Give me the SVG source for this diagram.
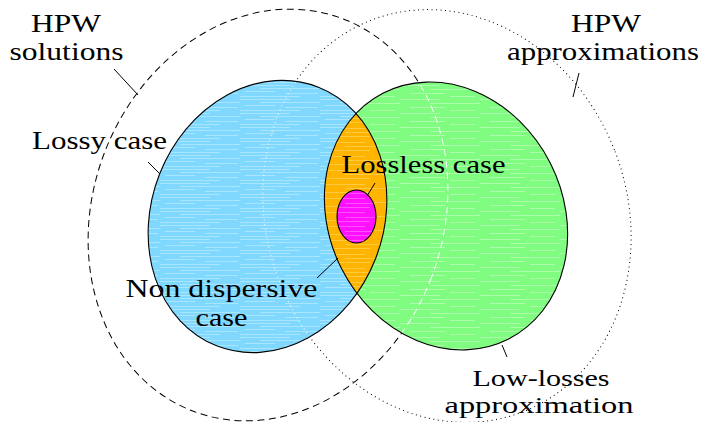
<svg xmlns="http://www.w3.org/2000/svg" width="710" height="422" viewBox="0 0 710 422">
<style>
.lbl{font-family:"Liberation Serif","Times New Roman",serif;font-size:26px;fill:#000;text-anchor:middle}
.lead{stroke:#000;stroke-width:1;fill:none}
.outl{stroke:#000;stroke-width:1.1;fill:none}
.dash{fill:none;stroke-width:1;stroke-dasharray:7 4.5}
.dot{fill:none;stroke-width:1;stroke-dasharray:1 3.5}
</style>
<defs>
<pattern id="hb" width="80" height="14" patternUnits="userSpaceOnUse">
<rect width="80" height="14" fill="#80d8ff"/>
<g stroke="#a8e6ff" stroke-width="1">
<line x1="0" y1="1.5" x2="50" y2="1.5"/><line x1="20" y1="4.5" x2="80" y2="4.5"/><line x1="5" y1="7.5" x2="35" y2="7.5"/><line x1="45" y1="9.5" x2="78" y2="9.5"/><line x1="0" y1="12.5" x2="60" y2="12.5"/>
</g></pattern>
<pattern id="hg" width="80" height="14" patternUnits="userSpaceOnUse">
<rect width="80" height="14" fill="#80fc80"/>
<g stroke="#abfdab" stroke-width="1">
<line x1="0" y1="1.5" x2="40" y2="1.5"/><line x1="30" y1="5.5" x2="80" y2="5.5"/><line x1="10" y1="9.5" x2="45" y2="9.5"/><line x1="50" y1="12.5" x2="75" y2="12.5"/>
</g></pattern>
<pattern id="ho" width="80" height="14" patternUnits="userSpaceOnUse">
<rect width="80" height="14" fill="#ffb400"/>
<g stroke="#ffc940" stroke-width="1">
<line x1="0" y1="2.5" x2="45" y2="2.5"/><line x1="25" y1="6.5" x2="80" y2="6.5"/><line x1="5" y1="10.5" x2="50" y2="10.5"/>
</g></pattern>
<pattern id="hm" width="80" height="14" patternUnits="userSpaceOnUse">
<rect width="80" height="14" fill="#ff10ff"/>
<g stroke="#ff50ff" stroke-width="1">
<line x1="0" y1="2.5" x2="45" y2="2.5"/><line x1="25" y1="7.5" x2="80" y2="7.5"/><line x1="5" y1="11.5" x2="50" y2="11.5"/>
</g></pattern>
<clipPath id="cb"><ellipse cx="0" cy="0" rx="116" ry="139" transform="translate(267.5 216.5) rotate(21.5)"/></clipPath>
<clipPath id="cg"><ellipse cx="0" cy="0" rx="117" ry="138" transform="translate(446 216) rotate(-27)"/></clipPath>
<clipPath id="cu">
<ellipse cx="0" cy="0" rx="116" ry="139" transform="translate(267.5 216.5) rotate(21.5)"/>
<ellipse cx="0" cy="0" rx="117" ry="138" transform="translate(446 216) rotate(-27)"/>
</clipPath>
</defs>
<rect width="710" height="422" fill="#fff"/>

<g id="hpw-solutions-set">
<ellipse class="dash" stroke="#000" cx="0" cy="0" rx="175" ry="210" transform="translate(268 215) rotate(21)"/>
</g>
<g id="hpw-approximations-set">
<ellipse class="dot" stroke="#000" cx="0" cy="0" rx="180" ry="210" transform="translate(447 216) rotate(-21)"/>
</g>

<g id="lossy-case">
<rect clip-path="url(#cb)" x="140" y="70" width="260" height="300" fill="url(#hb)"/>
</g>
<g id="low-losses-approximation">
<rect clip-path="url(#cg)" x="310" y="70" width="270" height="300" fill="url(#hg)"/>
</g>
<g id="lossless-case" clip-path="url(#cb)">
<rect clip-path="url(#cg)" x="310" y="90" width="90" height="210" fill="url(#ho)"/>
</g>

<g clip-path="url(#cu)">
<ellipse class="dash" stroke="#fff" cx="0" cy="0" rx="175" ry="210" transform="translate(268 215) rotate(21)"/>
<ellipse class="dot" stroke="#fff" cx="0" cy="0" rx="180" ry="210" transform="translate(447 216) rotate(-21)"/>
</g>

<ellipse class="outl" cx="0" cy="0" rx="116" ry="139" transform="translate(267.5 216.5) rotate(21.5)"/>
<ellipse class="outl" cx="0" cy="0" rx="117" ry="138" transform="translate(446 216) rotate(-27)"/>

<g id="non-dispersive-case">
<ellipse class="outl" style="fill:url(#hm)" cx="356.5" cy="216.5" rx="19.5" ry="26.5"/>
</g>

<g id="connectors">
<line class="lead" x1="114" y1="69" x2="138" y2="95"/>
<line class="lead" x1="579" y1="73" x2="573" y2="97"/>
<line class="lead" x1="148" y1="162" x2="160" y2="174"/>
<line class="lead" x1="375" y1="183" x2="367" y2="196"/>
<line class="lead" x1="317" y1="278" x2="338" y2="258"/>
<line class="lead" x1="502" y1="345" x2="507" y2="357"/>
</g>

<g id="labels">
<text class="lbl" x="66" y="32" textLength="70" lengthAdjust="spacingAndGlyphs">HPW</text>
<text class="lbl" x="66.5" y="60" textLength="114" lengthAdjust="spacingAndGlyphs">solutions</text>
<text class="lbl" x="606" y="32" textLength="70" lengthAdjust="spacingAndGlyphs">HPW</text>
<text class="lbl" x="603" y="60" textLength="192" lengthAdjust="spacingAndGlyphs">approximations</text>
<text class="lbl" x="99.5" y="149" textLength="135" lengthAdjust="spacingAndGlyphs">Lossy case</text>
<text class="lbl" x="423.5" y="173" textLength="164" lengthAdjust="spacingAndGlyphs">Lossless case</text>
<text class="lbl" x="221.5" y="297" textLength="192" lengthAdjust="spacingAndGlyphs">Non dispersive</text>
<text class="lbl" x="221.5" y="326" textLength="52" lengthAdjust="spacingAndGlyphs">case</text>
<text class="lbl" x="541" y="386" style="font-size:24px" textLength="137" lengthAdjust="spacingAndGlyphs">Low-losses</text>
<text class="lbl" x="539" y="413" style="font-size:24px" textLength="189" lengthAdjust="spacingAndGlyphs">approximation</text>
</g>
</svg>
